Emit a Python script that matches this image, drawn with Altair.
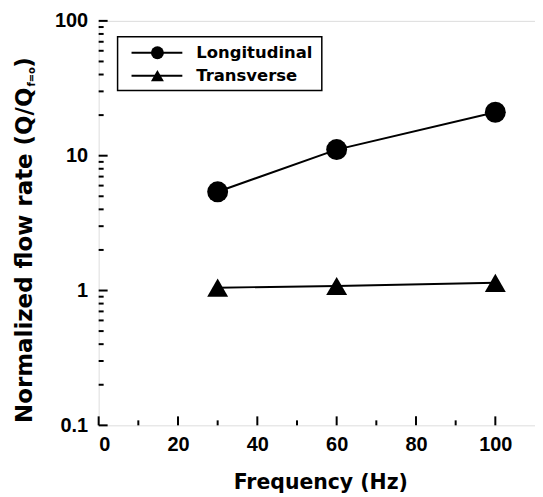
import altair as alt
import pandas as pd

# ---- data ----
frequency = [30, 60, 100]
longitudinal = [5.4, 11.1, 21.0]
transverse = [1.05, 1.08, 1.14]
series_names = ["Longitudinal", "Transverse"]

x_major_ticks = [0, 20, 40, 60, 80, 100]
x_minor_ticks = [10, 30, 50, 70, 90]
y_major_ticks = [0.1, 1, 10, 100]
y_minor_ticks = [0.2, 0.3, 0.4, 0.5, 0.6, 0.7, 0.8, 0.9,
                 2, 3, 4, 5, 6, 7, 8, 9,
                 20, 30, 40, 50, 60, 70, 80, 90]

W, H = 438, 406
LABEL_FONT = "Liberation Sans"
TITLE_FONT = "DejaVu Sans"

df = pd.DataFrame({
    "Freq": frequency * 2,
    "Flow": longitudinal + transverse,
    "Series": [series_names[0]] * 3 + [series_names[1]] * 3,
})
one = pd.DataFrame({"a": [0]})

x_scale = alt.Scale(domain=[0, 110], nice=False, zero=False)
y_scale = alt.Scale(type="log", domain=[0.1, 100], nice=False)

x_axis = alt.Axis(values=x_major_ticks, ticks=False, domain=False, grid=False,
                  labelFont=LABEL_FONT, labelFontSize=20, labelFontWeight="bold",
                  labelColor="black", labelPadding=9,
                  title="Frequency (Hz)", titleFont=TITLE_FONT, titleFontSize=20.5,
                  titleFontWeight="bold", titleColor="black", titlePadding=18,
                  titleX=222.5, titleAlign="center")
y_axis = alt.Axis(values=y_major_ticks, ticks=False, domain=False, grid=False,
                  labelExpr="datum.value >= 1 ? format(datum.value, 'd') : format(datum.value, '.1f')",
                  labelFont=LABEL_FONT, labelFontSize=20, labelFontWeight="bold",
                  labelColor="black", labelPadding=11, title=None)

X = alt.X("Freq:Q", scale=x_scale, axis=x_axis)
Y = alt.Y("Flow:Q", scale=y_scale, axis=y_axis)

lines = alt.Chart(df).mark_line(color="black", strokeWidth=2).encode(
    x=X, y=Y, detail="Series:N")
pts_long = alt.Chart(df[df.Series == series_names[0]]).mark_point(
    shape="circle", filled=True, color="black", size=441, opacity=1).encode(x=X, y=Y)
pts_tran = alt.Chart(df[df.Series == series_names[1]]).mark_point(
    shape="triangle-up", filled=True, color="black", size=441, opacity=1).encode(x=X, y=Y)

# inward ticks
xt_major = alt.Chart(pd.DataFrame({"Freq": x_major_ticks})).mark_rule(
    color="black", strokeWidth=2).encode(x=X, y=alt.value(H), y2=alt.value(H - 9))
xt_minor = alt.Chart(pd.DataFrame({"Freq": x_minor_ticks})).mark_rule(
    color="black", strokeWidth=2).encode(x=X, y=alt.value(H), y2=alt.value(H - 5))
yt_major = alt.Chart(pd.DataFrame({"Flow": y_major_ticks})).mark_rule(
    color="black", strokeWidth=2).encode(y=Y, x=alt.value(0), x2=alt.value(9))
yt_minor = alt.Chart(pd.DataFrame({"Flow": y_minor_ticks})).mark_rule(
    color="black", strokeWidth=2).encode(y=Y, x=alt.value(0), x2=alt.value(5))

# y-axis title with subscript
ytitle_main = alt.Chart(one).mark_text(
    text="Normalized flow rate (Q/Q", angle=270, align="right", baseline="middle",
    font=TITLE_FONT, fontSize=23, fontWeight="bold", color="black").encode(
    x=alt.value(-74), y=alt.value(67))
ytitle_sub = alt.Chart(one).mark_text(
    text="f=o", angle=270, align="left", baseline="middle",
    font=TITLE_FONT, fontSize=10, fontWeight="bold", color="black").encode(
    x=alt.value(-67), y=alt.value(66))
ytitle_close = alt.Chart(one).mark_text(
    text=")", angle=270, align="left", baseline="middle",
    font=TITLE_FONT, fontSize=23, fontWeight="bold", color="black").encode(
    x=alt.value(-74), y=alt.value(47))

# layout guards (invisible) to fix the plot origin on the page
guard = alt.Chart(one).mark_rule(opacity=0).encode(
    x=alt.value(-91), x2=alt.value(-91), y=alt.value(-12), y2=alt.value(0))

# legend
leg_box = alt.Chart(one).mark_rect(fill="white", stroke="black", strokeWidth=1.5).encode(
    x=alt.value(19), x2=alt.value(224), y=alt.value(16), y2=alt.value(70))
leg_line1 = alt.Chart(one).mark_rule(color="black", strokeWidth=2).encode(
    x=alt.value(33), x2=alt.value(84), y=alt.value(32))
leg_line2 = alt.Chart(one).mark_rule(color="black", strokeWidth=2).encode(
    x=alt.value(33), x2=alt.value(84), y=alt.value(55))
leg_sym1 = alt.Chart(one).mark_point(shape="circle", filled=True, color="black",
                                     size=169, opacity=1).encode(
    x=alt.value(59), y=alt.value(32))
leg_sym2 = alt.Chart(one).mark_point(shape="triangle-up", filled=True, color="black",
                                     size=169, opacity=1).encode(
    x=alt.value(59), y=alt.value(55))
leg_txt1 = alt.Chart(one).mark_text(
    text=series_names[0], align="left", baseline="middle", font=TITLE_FONT,
    fontSize=16.5, fontWeight="bold", color="black").encode(
    x=alt.value(98), y=alt.value(32))
leg_txt2 = alt.Chart(one).mark_text(
    text=series_names[1], align="left", baseline="middle", font=TITLE_FONT,
    fontSize=16.5, fontWeight="bold", color="black").encode(
    x=alt.value(98), y=alt.value(55))

chart = alt.layer(
    guard,
    xt_major, xt_minor, yt_major, yt_minor,
    lines, pts_long, pts_tran,
    leg_box, leg_line1, leg_line2, leg_sym1, leg_sym2, leg_txt1, leg_txt2,
    ytitle_main, ytitle_sub, ytitle_close,
).properties(
    width=W, height=H,
    padding={"left": 0, "top": 0, "right": 0, "bottom": 0},
).configure_view(stroke="black", strokeWidth=2.5).configure(background="white")

chart.save("out.html", embed_options={"renderer": "svg", "actions": False})
